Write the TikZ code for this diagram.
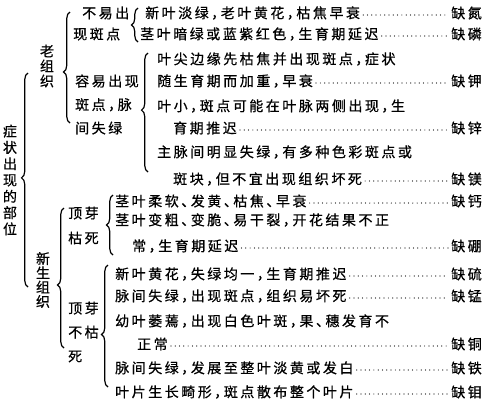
\documentclass[tikz,border=0pt]{standalone}
\usepackage{fontspec}
\setmainfont{Noto Sans CJK SC}[LetterSpace=18,RawFeature=+halt,FakeBold=0.6]
\usetikzlibrary{decorations.pathreplacing}

\tikzset{
  txt/.style={anchor=west, inner sep=0pt, font=\fontsize{14pt}{15pt}\selectfont},
  lack/.style={anchor=east, inner sep=0pt, font=\fontsize{14pt}{15pt}\selectfont},
  leader/.style={line width=1.2pt, line cap=round, dash pattern=on 0pt off 4.3pt, shorten <=3pt, shorten >=3pt},
  curly/.style={decorate, decoration={brace, amplitude=6.5pt, aspect=#1}, line width=1.2pt},
  curly/.default=0.5
}

\begin{document}
\begin{tikzpicture}[x=1pt,y=-1pt]
\useasboundingbox[fill=white] (0,0) rectangle (489,402);

% vertical labels
\node[inner sep=0pt, align=center, font=\fontsize{14pt}{16.3pt}\selectfont] (part) at (10,180) {症\\状\\出\\现\\的\\部\\位};
\node[inner sep=0pt, align=center, font=\fontsize{14pt}{15pt}\selectfont] (old) at (47,66) {老\\组\\织};
\node[inner sep=0pt, align=center, font=\fontsize{14pt}{14.3pt}\selectfont] (new) at (43,280) {新\\生\\组\\织};

% braces
\draw[curly=0.51] (28,287) -- (28,73);
\draw[curly=0.46] (70,123) -- (70,12);
\draw[curly=0.45] (64,348) -- (64,208);
\draw[curly=0.5] (138,42) -- (138,8);
\draw[curly=0.52] (148,172) -- (148,53);
\draw[curly=0.5] (113,255) -- (113,195);
\draw[curly=0.43] (108,387) -- (108,265);

% second level
\node[txt] (nospot1) at (82,13) {不易出};
\node[txt] (nospot2) at (73,34) {现斑点};
\node[txt, align=left, font=\fontsize{14pt}{23.5pt}\selectfont] (spot) at (75,104.5) {容易出现\\斑点，脉\\间失绿};
\node[txt, align=left, font=\fontsize{14pt}{25pt}\selectfont] (dead) at (68,225.5) {顶芽\\枯死};
\node[txt, align=left, font=\fontsize{14pt}{24pt}\selectfont] (alive) at (68,332) {顶芽\\不枯\\死};

% old tissue rows
\node[txt] (rowN) at (145,13) {新叶淡绿，老叶黄花，枯焦早衰};
\node[lack] (lN) at (482,13) {缺氮};
\node[txt] (rowP) at (140,34) {茎叶暗绿或蓝紫红色，生育期延迟};
\node[lack] (lP) at (482,34) {缺磷};
\node[txt] (rowK1) at (157,59) {叶尖边缘先枯焦并出现斑点，症状};
\node[txt] (rowK) at (157,81) {随生育期而加重，早衰};
\node[lack] (lK) at (482,81) {缺钾};
\node[txt] (rowZn1) at (157,106) {叶小，斑点可能在叶脉两侧出现，生};
\node[txt] (rowZn) at (173,128) {育期推迟};
\node[lack] (lZn) at (482,128) {缺锌};
\node[txt] (rowMg1) at (157,152) {主脉间明显失绿，有多种色彩斑点或};
\node[txt] (rowMg) at (173,179) {斑块，但不宜出现组织坏死};
\node[lack] (lMg) at (482,179) {缺镁};

% new tissue rows
\node[txt] (rowCa) at (115,201) {茎叶柔软、发黄、枯焦、早衰};
\node[lack] (lCa) at (482,201) {缺钙};
\node[txt] (rowB1) at (115,220) {茎叶变粗、变脆、易干裂，开花结果不正};
\node[txt] (rowB) at (132,246) {常，生育期延迟};
\node[lack] (lB) at (482,246) {缺硼};
\node[txt] (rowS) at (115,274) {新叶黄花，失绿均一，生育期推迟};
\node[lack] (lS) at (482,274) {缺硫};
\node[txt] (rowMn) at (115,296) {脉间失绿，出现斑点，组织易坏死};
\node[lack] (lMn) at (482,296) {缺锰};
\node[txt] (rowCu1) at (115,321) {幼叶萎蔫，出现白色叶斑，果、穗发育不};
\node[txt] (rowCu) at (137,344) {正常};
\node[lack] (lCu) at (482,344) {缺铜};
\node[txt] (rowFe) at (115,368) {脉间失绿，发展至整叶淡黄或发白};
\node[lack] (lFe) at (482,368) {缺铁};
\node[txt] (rowMo) at (115,392) {叶片生长畸形，斑点散布整个叶片};
\node[lack] (lMo) at (482,392) {缺钼};

% dotted leaders
\foreach \r/\l in {rowN/lN, rowP/lP, rowK/lK, rowZn/lZn, rowMg/lMg, rowCa/lCa, rowB/lB, rowS/lS, rowMn/lMn, rowCu/lCu, rowFe/lFe, rowMo/lMo}
  \draw[leader] ([yshift=-2pt]\r.east) -- ([yshift=-2pt]\l.west);

\end{tikzpicture}
\end{document}
